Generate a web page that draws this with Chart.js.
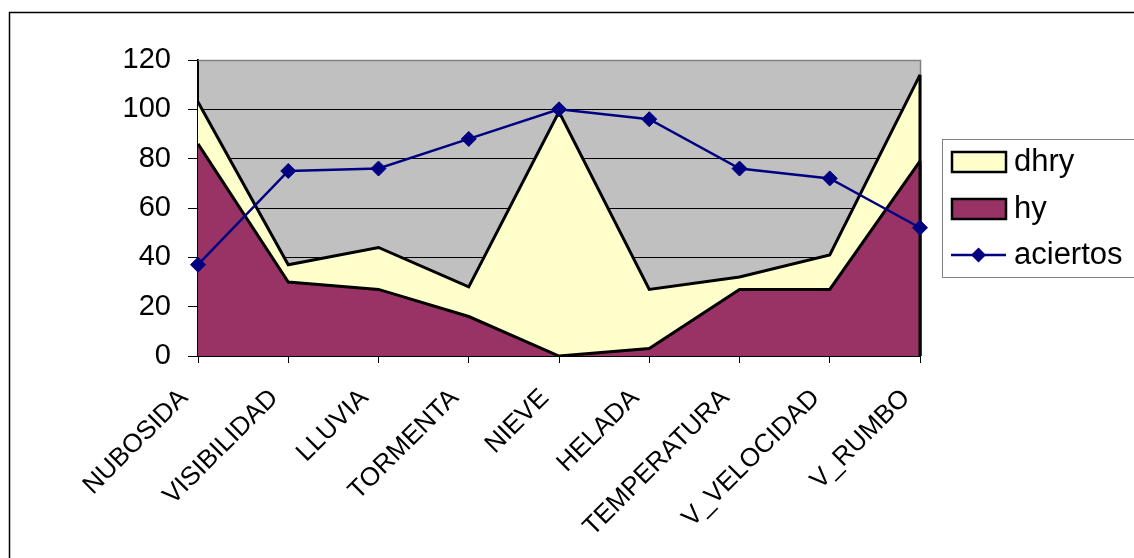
<!DOCTYPE html>
<html>
<head>
<meta charset="utf-8">
<script src="https://cdn.jsdelivr.net/npm/chart.js@4.4.1/dist/chart.umd.min.js"></script>
<style>
  html, body { margin: 0; padding: 0; background: #fff; }
  #wrap { position: relative; width: 1134px; height: 558px; }
</style>
</head>
<body>
<div id="wrap"><canvas id="chart" width="1134" height="558"></canvas></div>
<script>
const categories = ['NUBOSIDA', 'VISIBILIDAD', 'LLUVIA', 'TORMENTA', 'NIEVE', 'HELADA', 'TEMPERATURA', 'V_VELOCIDAD', 'V_RUMBO'];
const dhry = [103, 37, 44, 28, 99, 27, 32, 41, 114];
const hy = [86, 30, 27, 16, 0, 3, 27, 27, 79];
const aciertos = [37, 75, 76, 88, 100, 96, 76, 72, 52];
const yTicks = [0, 20, 40, 60, 80, 100, 120];

const FONT = 'Liberation Sans, Arial, sans-serif';

// gray plot background, outer frame, area edges and legend box
const frame = {
  id: 'frame',
  beforeDraw(chart) {
    const { ctx, chartArea: a } = chart;
    ctx.save();
    ctx.fillStyle = '#fff';
    ctx.fillRect(0, 0, chart.width, chart.height);
    ctx.fillStyle = '#c0c0c0';
    ctx.fillRect(a.left, a.top, a.right - a.left, a.bottom - a.top);
    ctx.strokeStyle = '#000';
    ctx.lineWidth = 1.5;
    ctx.strokeRect(9.5, 12.5, chart.width + 20, chart.height + 20);
    ctx.restore();
  },
  beforeDatasetsDraw(chart) {
    const { ctx, chartArea: a } = chart;
    ctx.save();
    ctx.strokeStyle = '#808080';
    ctx.lineWidth = 1.5;
    ctx.beginPath();
    ctx.moveTo(a.left, a.top + 0.5);
    ctx.lineTo(a.right + 0.5, a.top + 0.5);
    ctx.lineTo(a.right + 0.5, a.bottom);
    ctx.stroke();
    ctx.restore();
  },
  afterDatasetDraw(chart, args) {
    const ds = chart.data.datasets[args.index];
    if (!ds.fill) return;
    const { ctx } = chart;
    const y = chart.scales.y;
    const x = chart.scales.x;
    const last = ds.data.length - 1;
    const px = x.getPixelForValue(last);
    ctx.save();
    ctx.strokeStyle = '#000';
    ctx.lineWidth = 3;
    ctx.beginPath();
    ctx.moveTo(px, y.getPixelForValue(ds.data[last]));
    ctx.lineTo(px, y.getPixelForValue(0));
    ctx.stroke();
    ctx.restore();
  },
  afterDraw(chart) {
    const { ctx } = chart;
    const bx = 942, by = 139;
    ctx.save();
    ctx.fillStyle = '#fff';
    ctx.fillRect(bx, by, 200, 138);
    ctx.strokeStyle = '#808080';
    ctx.lineWidth = 1;
    ctx.strokeRect(bx + 0.5, by + 0.5, 200, 138);
    ctx.font = '31px ' + FONT;
    ctx.textBaseline = 'middle';
    ctx.textAlign = 'left';
    const rows = [162, 209, 255];
    // legend order: dhry, hy, aciertos
    [1, 2, 0].forEach((i, k) => {
      const ds = chart.data.datasets[i];
      const cy = rows[k];
      if (ds.fill) {
        ctx.fillStyle = ds.backgroundColor;
        ctx.fillRect(952, cy - 10, 54, 20);
        ctx.strokeStyle = '#000';
        ctx.lineWidth = 2.5;
        ctx.strokeRect(952, cy - 10, 54, 20);
      } else {
        ctx.strokeStyle = ds.borderColor;
        ctx.lineWidth = 2.5;
        ctx.beginPath();
        ctx.moveTo(951, cy);
        ctx.lineTo(1006, cy);
        ctx.stroke();
        ctx.fillStyle = ds.pointBackgroundColor;
        ctx.beginPath();
        ctx.moveTo(978.5, cy - 7.5);
        ctx.lineTo(986, cy);
        ctx.lineTo(978.5, cy + 7.5);
        ctx.lineTo(971, cy);
        ctx.closePath();
        ctx.fill();
      }
      ctx.fillStyle = '#000';
      ctx.fillText(ds.label, 1014, cy);
    });
    ctx.restore();
  }
};

new Chart(document.getElementById('chart'), {
  type: 'line',
  data: {
    labels: categories,
    datasets: [
      {
        label: 'aciertos',
        data: aciertos,
        borderColor: '#000080',
        backgroundColor: '#000080',
        pointBackgroundColor: '#000080',
        pointBorderColor: '#000080',
        pointStyle: 'rectRot',
        pointRadius: 7.5,
        pointBorderWidth: 1,
        borderWidth: 2.5,
        fill: false,
        tension: 0,
        order: 0
      },
      {
        label: 'dhry',
        data: dhry,
        borderColor: '#000',
        backgroundColor: '#ffffcc',
        borderWidth: 3,
        pointRadius: 0,
        fill: 'origin',
        tension: 0,
        order: 2
      },
      {
        label: 'hy',
        data: hy,
        borderColor: '#000',
        backgroundColor: '#993366',
        borderWidth: 3,
        pointRadius: 0,
        fill: 'origin',
        tension: 0,
        order: 1
      }
    ]
  },
  options: {
    responsive: false,
    animation: false,
    events: [],
    layout: { padding: { top: 60, right: 214, left: 0, bottom: 0 } },
    plugins: {
      legend: { display: false },
      tooltip: { enabled: false }
    },
    scales: {
      x: {
        offset: false,
        afterFit(scale) { scale.height = 202; },
        grid: {
          drawOnChartArea: false,
          color: '#000',
          tickLength: 7,
          tickWidth: 1
        },
        border: { color: '#000', width: 2 },
        ticks: {
          autoSkip: false,
          minRotation: 45,
          maxRotation: 45,
          padding: 20,
          labelOffset: -14,
          color: '#000',
          font: { family: FONT, size: 26 }
        }
      },
      y: {
        min: 0,
        max: 120,
        afterFit(scale) { scale.width = 198; },
        afterBuildTicks(scale) { scale.ticks = yTicks.map(v => ({ value: v })); },
        grid: {
          color: ctx => (ctx.tick && ctx.tick.value === 120 ? '#808080' : '#000'),
          lineWidth: 1,
          tickLength: 10,
          tickColor: '#000'
        },
        border: { color: '#000', width: 2 },
        ticks: {
          padding: 17,
          color: '#000',
          font: { family: FONT, size: 29 }
        }
      }
    }
  },
  plugins: [frame]
});
</script>
</body>
</html>
